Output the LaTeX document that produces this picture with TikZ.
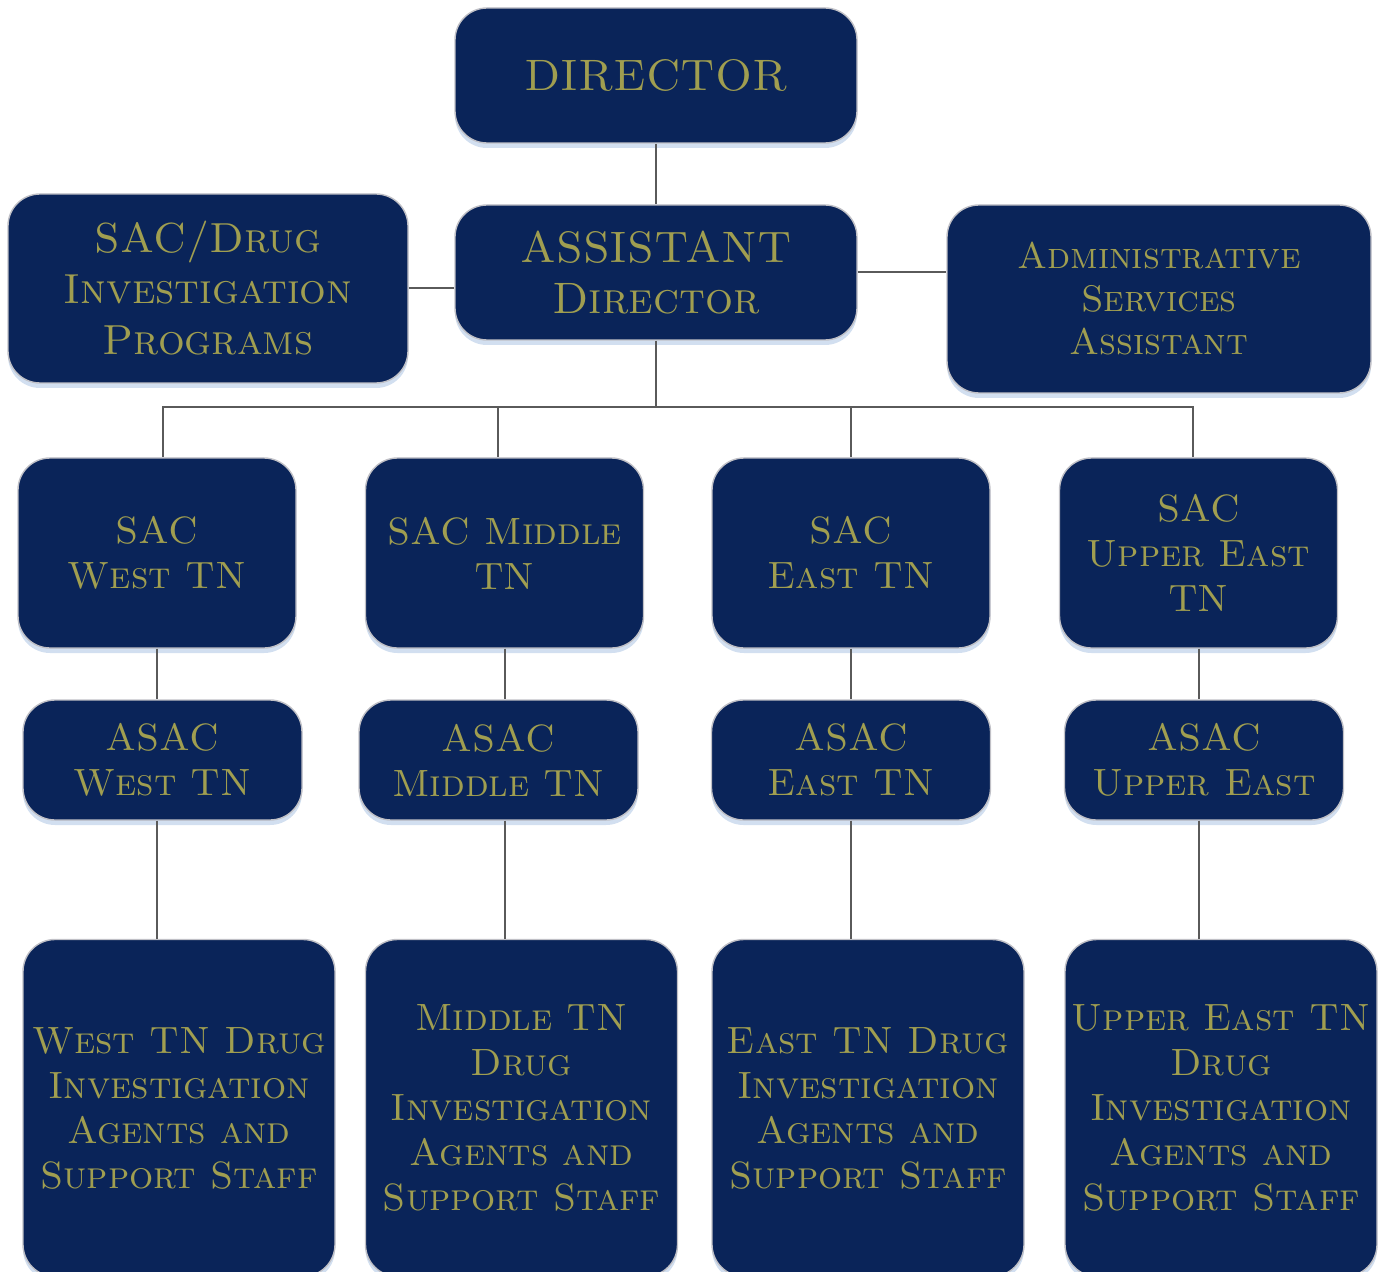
\documentclass[tikz,border=0pt]{standalone}
\usepackage{fontspec}
\usepackage{xcolor}
\usepackage{tikz}
\usetikzlibrary{positioning, shadows}
\definecolor{navy}{RGB}{10,36,89}
\definecolor{olivetext}{RGB}{160,158,80}
\definecolor{rimgray}{RGB}{192,192,198}
\definecolor{glow}{RGB}{205,220,238}
\definecolor{linkgray}{RGB}{90,90,90}
\tikzset{
    orgbox/.style={rectangle, rounded corners=16pt, draw=rimgray, line width=0.7pt, fill=navy, text=olivetext, align=center, inner sep=2pt, font=\fontsize{19}{22.5}\selectfont\scshape, drop shadow={shadow xshift=0pt, shadow yshift=-2.5pt, fill=glow, opacity=0.9}},
    headbox/.style={orgbox, minimum width=201pt, minimum height=67.5pt, font=\fontsize{22}{25.5}\selectfont\scshape},
    sidebox/.style={orgbox, minimum width=200pt, minimum height=94.5pt},
    sacbox/.style={orgbox, minimum width=139pt, minimum height=95pt},
    asacbox/.style={orgbox, minimum width=139.5pt, minimum height=60pt},
    staffbox/.style={orgbox, minimum width=156pt, minimum height=168.5pt},
    link/.style={draw=linkgray, line width=1pt}
}
\begin{document}
\begin{tikzpicture}[x=0.5pt, y=-0.5pt]
    \useasboundingbox (0,0) rectangle (1380,1272);

    % Top
    \node[headbox] (dir) at (656,75.5) {DIRECTOR};
    \node[headbox] (ad) at (656,272.5) {ASSISTANT\\Director};
    \node[sidebox, font=\fontsize{21}{25.5}\selectfont\scshape] (drug) at (208,288.5) {SAC/Drug\\Investigation\\Programs};
    \node[sidebox, minimum width=212pt, minimum height=94pt, font=\fontsize{18.5}{21.5}\selectfont\scshape] (adm) at (1159,299) {Administrative\\Services\\Assistant};

    % SAC
    \node[sacbox] (sacw) at (157,553) {SAC\\West TN};
    \node[sacbox] (sacm) at (504.5,553) {SAC Middle\\TN};
    \node[sacbox] (sace) at (851,553) {SAC\\East TN};
    \node[sacbox] (sacu) at (1198.5,553) {SAC\\Upper East\\TN};

    % ASAC
    \node[asacbox] (asacw) at (162.5,760) {ASAC\\West TN};
    \node[asacbox] (asacm) at (498.5,760) {ASAC\\Middle TN};
    \node[asacbox] (asace) at (851,760) {ASAC\\East TN};
    \node[asacbox] (asacu) at (1204,760) {ASAC\\Upper East};

    % Agents
    \node[staffbox] (agw) at (179,1108) {West TN Drug\\Investigation\\Agents and\\Support Staff};
    \node[staffbox] (agm) at (521.5,1108) {Middle TN\\Drug\\Investigation\\Agents and\\Support Staff};
    \node[staffbox] (age) at (868,1108) {East TN Drug\\Investigation\\Agents and\\Support Staff};
    \node[staffbox] (agu) at (1221,1108) {Upper East TN\\Drug\\Investigation\\Agents and\\Support Staff};

    % Connections
    \coordinate (bus) at (656,407);
    \draw[link] (dir) -- (ad);
    \draw[link] (drug.east) -- (drug.east -| ad.west);
    \draw[link] (ad.east) -- (ad.east -| adm.west);
    \draw[link] (ad) -- (bus);
    \foreach \s/\d in {sacw/3, sacm/-3.25, sace/0, sacu/-2.75} \draw[link] (bus) -| ([xshift=\d pt]\s.north);
    \foreach \s/\a/\g in {sacw/asacw/agw, sacm/asacm/agm, sace/asace/age, sacu/asacu/agu} {
        \draw[link] (\s.south) -- (\s.south |- \a.north);
        \draw[link] (\s.south |- \a.south) -- (\s.south |- \g.north);
    }
\end{tikzpicture}
\end{document}
